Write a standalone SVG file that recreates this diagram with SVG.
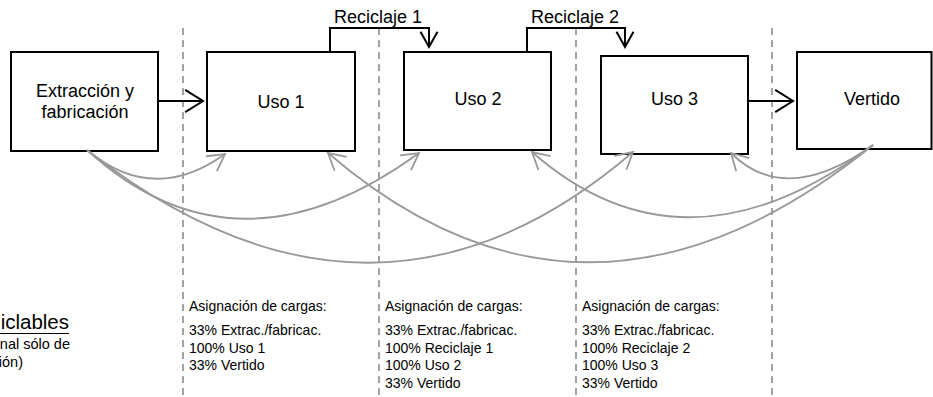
<svg xmlns="http://www.w3.org/2000/svg" width="933" height="397" viewBox="0 0 933 397">
<style>
text{font-family:"Liberation Sans",Arial,sans-serif;fill:#000}
.box{fill:#fff;stroke:#000;stroke-width:2}
.lbl{font-size:18px;text-anchor:middle}
.sep{stroke:#999;stroke-width:1.8;stroke-dasharray:7 5;fill:none}
.flow{stroke:#000;stroke-width:2;fill:none}
.alloc{stroke:#999;stroke-width:1.8;fill:none;marker-end:url(#ag)}
.col{font-size:14px}
</style>
<defs>
<marker id="ab" markerUnits="userSpaceOnUse" markerWidth="30" markerHeight="30" refX="20" refY="12" orient="auto" overflow="visible">
<path d="M2.2,0.9 L20,12 L2.2,23.1" fill="none" stroke="#000" stroke-width="2"/>
</marker>
<marker id="as" markerUnits="userSpaceOnUse" markerWidth="30" markerHeight="30" refX="20" refY="12" orient="auto" overflow="visible">
<path d="M4.7,3.5 L20,12 L4.7,20.5" fill="none" stroke="#000" stroke-width="2"/>
</marker>
<marker id="ag" markerUnits="userSpaceOnUse" markerWidth="30" markerHeight="30" refX="20" refY="12" orient="auto" overflow="visible">
<path d="M3.4,2.8 L20,12 L3.4,21.2" fill="none" stroke="#999" stroke-width="1.8"/>
</marker>
</defs>

<g id="separators">
<line class="sep" x1="183" y1="28" x2="183" y2="397"/>
<line class="sep" x1="379" y1="28" x2="379" y2="397"/>
<line class="sep" x1="576" y1="28" x2="576" y2="397"/>
<line class="sep" x1="772" y1="28" x2="772" y2="397"/>
</g>

<g id="n-extraccion">
<rect class="box" x="11" y="52" width="147" height="99"/>
<text class="lbl" x="85" y="97">Extracción y</text>
<text class="lbl" x="85" y="118">fabricación</text>
</g>
<g id="n-uso1">
<rect class="box" x="207" y="52" width="148" height="99"/>
<text class="lbl" x="281" y="108">Uso 1</text>
</g>
<g id="n-uso2">
<rect class="box" x="404" y="52" width="147" height="98"/>
<text class="lbl" x="478" y="105">Uso 2</text>
</g>
<g id="n-uso3">
<rect class="box" x="601" y="56" width="147" height="98"/>
<text class="lbl" x="674.5" y="105">Uso 3</text>
</g>
<g id="n-vertido">
<rect class="box" x="797" y="52" width="134.5" height="97"/>
<text class="lbl" x="872" y="105">Vertido</text>
</g>

<g id="connectors">
<line class="flow" x1="158" y1="101" x2="203" y2="101" marker-end="url(#ab)"/>
<line class="flow" x1="748" y1="101" x2="793" y2="101" marker-end="url(#ab)"/>
<polyline class="flow" points="330,52 330,28 429,28 429,47" marker-end="url(#as)"/>
<polyline class="flow" points="527,52 527,28 625,28 625,47" marker-end="url(#as)"/>
<text x="334" y="23" style="font-size:18px">Reciclaje 1</text>
<text x="531" y="23" style="font-size:18px">Reciclaje 2</text>
<path class="alloc" d="M87,150 Q153.5,205.5 225,154"/>
<path class="alloc" d="M87,150 Q236.5,286 419,153"/>
<path class="alloc" d="M87,150 Q373.5,374.5 633,152"/>
<path class="alloc" d="M873,145 Q785.5,207.5 731,153"/>
<path class="alloc" d="M873,145 Q685,286 532,152"/>
<path class="alloc" d="M873,145 Q587,375.5 328,153"/>
</g>

<g id="legend">
<text x="69" y="329" style="font-size:20.5px;text-anchor:end">iclables</text>
<line x1="0" y1="333.5" x2="69" y2="333.5" stroke="#000" stroke-width="1.2"/>
<text x="70" y="349" style="font-size:14.5px;text-anchor:end">nal sólo de</text>
<text x="23" y="367" style="font-size:14.5px;text-anchor:end">ión)</text>
</g>

<g id="allocation-1">
<text class="col" x="189" y="311">Asignación de cargas:</text>
<text class="col" x="189" y="335">33% Extrac./fabricac.</text>
<text class="col" x="189" y="352.5">100% Uso 1</text>
<text class="col" x="189" y="370">33% Vertido</text>
</g>
<g id="allocation-2">
<text class="col" x="385" y="311">Asignación de cargas:</text>
<text class="col" x="385" y="335">33% Extrac./fabricac.</text>
<text class="col" x="385" y="352.5">100% Reciclaje 1</text>
<text class="col" x="385" y="370">100% Uso 2</text>
<text class="col" x="385" y="387.5">33% Vertido</text>
</g>
<g id="allocation-3">
<text class="col" x="582" y="311">Asignación de cargas:</text>
<text class="col" x="582" y="335">33% Extrac./fabricac.</text>
<text class="col" x="582" y="352.5">100% Reciclaje 2</text>
<text class="col" x="582" y="370">100% Uso 3</text>
<text class="col" x="582" y="387.5">33% Vertido</text>
</g>
</svg>
